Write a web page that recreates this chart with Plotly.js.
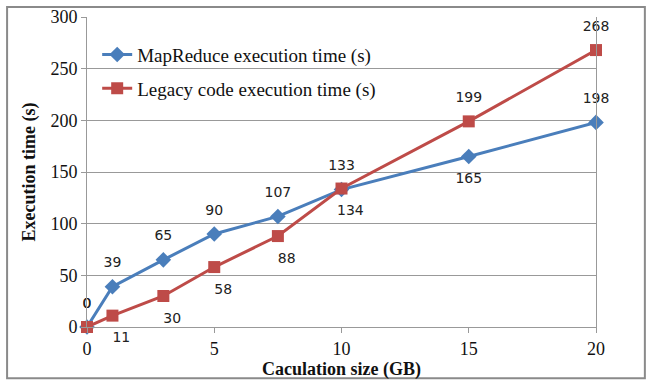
<!DOCTYPE html>
<html><head><meta charset="utf-8">
<script src="https://cdn.plot.ly/plotly-3.0.1.min.js"></script>
<style>html,body{margin:0;padding:0;background:#fff}#c{width:653px;height:386px}</style>
</head><body><div id="c"></div>
<script>
const sizesGB = [0, 1, 3, 5, 7.5, 10, 15, 20];
const mapReduceTime = [0, 39, 65, 90, 107, 133, 165, 198];
const legacyTime = [0, 11, 30, 58, 88, 134, 199, 268];
const mapReduceLabelPos = ['top center','top center','top center','top center','top center','top center','bottom center','top center'];
const legacyLabelPos = ['top center','bottom center','bottom center','bottom center','bottom center','bottom center','top center','top center'];
const yTicks = [0, 50, 100, 150, 200, 250, 300];
const xTicks = [0, 5, 10, 15, 20];

const NB = '\u00a0\u00a0\u00a0\u00a0';
const labelFont = {family: 'DejaVu Sans', size: 14, color: '#222'};
const blue = '#4A7EBB', red = '#BE4B48';
const traces = [
  {x: sizesGB, y: mapReduceTime, name: 'MapReduce execution time (s)', mode: 'lines+markers',
   line: {color: blue, width: 3}, marker: {symbol: 'diamond', size: 12, color: blue}, legendgroup: 'a', cliponaxis: false},
  {x: sizesGB, y: legacyTime, name: 'Legacy code execution time (s)', mode: 'lines+markers',
   line: {color: red, width: 3}, marker: {symbol: 'square', size: 12, color: red}, legendgroup: 'b', cliponaxis: false},
  {x: sizesGB, y: mapReduceTime, mode: 'markers+text', showlegend: false, hoverinfo: 'skip',
   text: mapReduceTime.map(String), textposition: mapReduceLabelPos, textfont: labelFont,
   marker: {size: 24, color: 'rgba(0,0,0,0)'}, cliponaxis: false},
  {x: sizesGB, y: legacyTime, mode: 'markers+text', showlegend: false, hoverinfo: 'skip',
   text: legacyTime.map((v, i) => legacyLabelPos[i].startsWith('bottom') ? NB + v : String(v)),
   textposition: legacyLabelPos, textfont: labelFont,
   marker: {size: 24, color: 'rgba(0,0,0,0)'}, cliponaxis: false}
];
const layout = {
  width: 653, height: 386,
  margin: {l: 87, r: 57, t: 17, b: 59},
  paper_bgcolor: '#fff', plot_bgcolor: '#fff',
  showlegend: true,
  legend: {x: 0.02, y: 0.94, xanchor: 'left', yanchor: 'top', bgcolor: 'rgba(0,0,0,0)',
           font: {family: 'Liberation Serif', size: 19, color: '#111'}, tracegroupgap: 6, traceorder: 'grouped'},
  xaxis: {range: [0, 20], tickvals: xTicks, showgrid: false, zeroline: false,
          showline: true, linecolor: '#999', linewidth: 1, ticks: 'outside', tickcolor: '#999', ticklen: 5,
          tickfont: {family: 'Liberation Serif', size: 18, color: '#111'},
          title: {text: '<b>Caculation size (GB)</b>', font: {family: 'Liberation Serif', size: 18, color: '#111'}, standoff: 3}},
  yaxis: {range: [0, 300], tickvals: yTicks, showgrid: true, gridcolor: '#999', gridwidth: 1, zeroline: false,
          showline: true, mirror: true, linecolor: '#999', linewidth: 1, ticks: 'outside', tickcolor: '#999', ticklen: 5,
          tickfont: {family: 'Liberation Serif', size: 18, color: '#111'},
          title: {text: '<b>Execution time (s)</b>', font: {family: 'Liberation Serif', size: 18, color: '#111'}, standoff: 10}},
  shapes: [{type: 'rect', xref: 'paper', yref: 'paper', x0: -0.157, x1: 1.096, y0: -0.165, y1: 1.032,
            line: {color: '#8a8a8a', width: 2}, fillcolor: 'rgba(0,0,0,0)'}]
};
Plotly.newPlot('c', traces, layout, {displayModeBar: false, staticPlot: true});
</script></body></html>
